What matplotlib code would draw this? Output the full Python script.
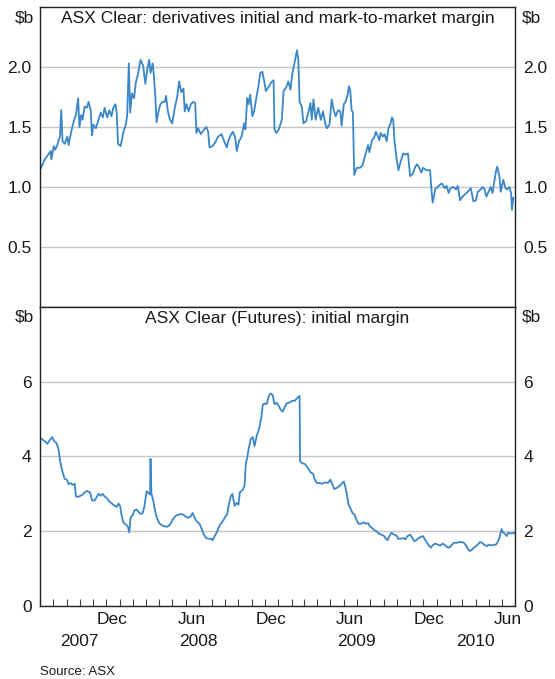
import numpy as np
import matplotlib
matplotlib.use("Agg")
import matplotlib.pyplot as plt
import matplotlib.dates as mdates
import matplotlib.ticker as mticker

plt.rcParams['font.family'] = ['Liberation Sans', 'DejaVu Sans']

START = np.datetime64('2007-07-01')
END = np.datetime64('2010-07-01')

# ---- Top panel: ASX Clear derivatives initial and mark-to-market margin ($b)
top_day = [1, 11, 17, 25, 26, 32, 35, 40, 43, 46,
           49, 52, 57, 63, 66, 72, 78, 83, 88, 91,
           95, 98, 103, 108, 112, 117, 120, 123, 129, 135,
           140, 145, 149, 155, 160, 165, 169, 174, 177, 180,
           186, 192, 198, 201, 205, 208, 212, 217, 221, 226,
           232, 238, 243, 248, 252, 255, 260, 263, 266, 269,
           274, 278, 283, 288, 291, 295, 300, 305, 311, 317,
           321, 326, 331, 334, 338, 343, 348, 354, 358, 361,
           365, 371, 379, 384, 388, 391, 398, 404, 411, 419,
           425, 431, 434, 441, 445, 450, 454, 459, 465, 471,
           474, 478, 481, 485, 490, 494, 499, 504, 508, 513,
           518, 521, 527, 533, 539, 541, 545, 551, 558, 562,
           568, 573, 578, 582, 587, 593, 596, 599, 604, 608,
           614, 619, 624, 627, 631, 636, 642, 648, 653, 658,
           662, 668, 673, 678, 682, 688, 693, 696, 701, 705,
           710, 713, 716, 719, 722, 725, 731, 738, 744, 751,
           757, 760, 766, 771, 775, 780, 783, 786, 791, 795,
           800, 804, 809, 812, 815, 818, 823, 827, 832, 838,
           844, 849, 854, 860, 866, 870, 875, 880, 884, 891,
           900, 903, 906, 912, 920, 927, 934, 938, 943, 947,
           954, 960, 964, 969, 975, 981, 987, 994, 1000, 1006,
           1010, 1017, 1021, 1026, 1030, 1035, 1040, 1044, 1049, 1052,
           1055, 1060, 1063, 1069, 1074, 1078, 1083, 1087, 1089, 1092]
top_val = [1.15, 1.23, 1.26, 1.30, 1.23, 1.34, 1.31, 1.35, 1.39, 1.42,
           1.64, 1.38, 1.36, 1.42, 1.35, 1.46, 1.55, 1.60, 1.74, 1.50,
           1.60, 1.56, 1.67, 1.66, 1.71, 1.64, 1.43, 1.52, 1.49, 1.56,
           1.62, 1.58, 1.66, 1.58, 1.64, 1.59, 1.66, 1.69, 1.62, 1.36,
           1.34, 1.45, 1.52, 1.59, 2.03, 1.62, 1.78, 1.74, 1.87, 1.94,
           2.06, 2.01, 1.86, 1.99, 2.06, 1.95, 2.03, 1.92, 1.76, 1.54,
           1.64, 1.69, 1.71, 1.71, 1.76, 1.63, 1.56, 1.53, 1.66, 1.76,
           1.88, 1.79, 1.82, 1.63, 1.69, 1.63, 1.69, 1.71, 1.70, 1.45,
           1.49, 1.44, 1.48, 1.50, 1.46, 1.33, 1.34, 1.37, 1.42, 1.44,
           1.38, 1.33, 1.38, 1.44, 1.46, 1.42, 1.30, 1.38, 1.42, 1.53,
           1.48, 1.74, 1.69, 1.77, 1.59, 1.63, 1.74, 1.84, 1.95, 1.96,
           1.87, 1.80, 1.83, 1.87, 1.89, 1.48, 1.45, 1.48, 1.56, 1.80,
           1.83, 1.88, 1.81, 1.94, 2.03, 2.14, 2.06, 1.71, 1.67, 1.53,
           1.55, 1.62, 1.70, 1.56, 1.73, 1.56, 1.66, 1.56, 1.63, 1.53,
           1.49, 1.52, 1.73, 1.64, 1.59, 1.64, 1.63, 1.51, 1.69, 1.71,
           1.77, 1.84, 1.80, 1.64, 1.62, 1.10, 1.16, 1.16, 1.18, 1.27,
           1.35, 1.29, 1.39, 1.41, 1.46, 1.42, 1.39, 1.45, 1.42, 1.44,
           1.38, 1.49, 1.53, 1.58, 1.56, 1.38, 1.23, 1.14, 1.21, 1.28,
           1.27, 1.28, 1.09, 1.11, 1.17, 1.19, 1.16, 1.12, 1.16, 1.14,
           1.14, 0.99, 0.87, 0.98, 1.01, 1.03, 0.99, 1.01, 0.95, 0.99,
           1.00, 0.98, 1.01, 0.89, 0.92, 0.94, 0.96, 0.99, 0.88, 0.89,
           0.96, 0.98, 1.00, 0.98, 0.92, 0.96, 1.00, 0.95, 1.06, 1.13,
           1.17, 1.09, 0.96, 1.06, 0.99, 0.98, 1.00, 0.95, 0.81, 0.91]

# ---- Bottom panel: ASX Clear (Futures) initial margin ($b)
bot_day = [2, 7, 12, 17, 22, 28, 32, 38, 43, 46,
           49, 54, 57, 62, 66, 71, 75, 80, 83, 88,
           94, 98, 103, 109, 115, 117, 120, 126, 131, 135,
           140, 145, 149, 154, 160, 166, 172, 177, 181, 185,
           188, 192, 198, 203, 206, 209, 214, 218, 223, 228,
           232, 237, 241, 246, 249, 254, 255, 257, 261, 265,
           269, 275, 281, 288, 294, 300, 306, 312, 318, 325,
           331, 335, 341, 348, 352, 357, 361, 368, 372, 377,
           383, 389, 395, 398, 403, 408, 412, 417, 423, 428,
           432, 435, 440, 444, 449, 454, 458, 461, 468, 472,
           475, 478, 481, 486, 491, 495, 500, 506, 511, 514,
           518, 523, 528, 532, 537, 541, 546, 551, 555, 560,
           565, 569, 575, 582, 588, 593, 597, 599, 600, 605,
           611, 616, 620, 625, 630, 634, 639, 645, 651, 658,
           664, 670, 675, 679, 685, 692, 696, 701, 704, 709,
           712, 716, 721, 726, 730, 735, 741, 747, 752, 757,
           761, 766, 771, 777, 781, 788, 794, 798, 802, 806,
           811, 817, 823, 826, 833, 839, 843, 848, 854, 859,
           864, 868, 874, 879, 884, 888, 893, 897, 902, 907,
           913, 918, 924, 929, 933, 939, 944, 949, 955, 961,
           967, 974, 978, 983, 987, 992, 997, 1001, 1006, 1010,
           1015, 1020, 1025, 1031, 1035, 1042, 1048, 1052, 1057, 1060,
           1065, 1068, 1072, 1077, 1080, 1086, 1092, 1095]
bot_val = [4.49, 4.44, 4.40, 4.34, 4.43, 4.52, 4.42, 4.36, 4.18, 3.91,
           3.72, 3.51, 3.40, 3.38, 3.26, 3.29, 3.24, 3.27, 2.93, 2.92,
           2.95, 2.98, 3.04, 3.08, 3.04, 2.98, 2.83, 2.82, 2.92, 3.00,
           2.95, 3.00, 2.93, 2.89, 2.80, 2.74, 2.68, 2.65, 2.74, 2.67,
           2.44, 2.24, 2.18, 2.12, 1.97, 2.36, 2.44, 2.56, 2.58, 2.51,
           2.46, 2.49, 2.67, 3.07, 3.04, 2.98, 3.94, 3.00, 2.84, 2.58,
           2.38, 2.22, 2.16, 2.13, 2.12, 2.18, 2.31, 2.40, 2.44, 2.46,
           2.44, 2.40, 2.36, 2.40, 2.49, 2.36, 2.27, 2.20, 2.09, 1.94,
           1.82, 1.80, 1.80, 1.76, 1.87, 1.97, 2.09, 2.20, 2.29, 2.40,
           2.46, 2.68, 2.93, 3.00, 2.68, 2.76, 2.71, 3.04, 3.11, 3.22,
           3.82, 3.96, 4.18, 4.46, 4.52, 4.28, 4.55, 4.76, 5.07, 5.38,
           5.42, 5.40, 5.62, 5.69, 5.64, 5.40, 5.44, 5.35, 5.26, 5.20,
           5.33, 5.42, 5.44, 5.49, 5.49, 5.56, 5.60, 5.62, 3.87, 3.82,
           3.80, 3.73, 3.66, 3.57, 3.54, 3.38, 3.29, 3.29, 3.27, 3.31,
           3.29, 3.38, 3.24, 3.13, 3.16, 3.22, 3.27, 3.33, 3.22, 2.92,
           2.71, 2.62, 2.49, 2.44, 2.31, 2.20, 2.20, 2.24, 2.20, 2.22,
           2.13, 2.09, 2.03, 2.00, 1.94, 1.91, 1.87, 1.80, 1.76, 1.87,
           1.96, 1.91, 1.88, 1.80, 1.80, 1.82, 1.78, 1.87, 1.91, 1.82,
           1.73, 1.76, 1.82, 1.85, 1.87, 1.78, 1.69, 1.62, 1.56, 1.64,
           1.67, 1.64, 1.62, 1.67, 1.64, 1.58, 1.56, 1.62, 1.69, 1.69,
           1.71, 1.71, 1.69, 1.62, 1.53, 1.47, 1.51, 1.56, 1.60, 1.64,
           1.71, 1.69, 1.64, 1.60, 1.64, 1.62, 1.64, 1.64, 1.73, 1.82,
           2.06, 1.97, 1.94, 1.87, 1.96, 1.94, 1.96, 1.94]

top_title = "ASX Clear: derivatives initial and mark-to-market margin"
bot_title = "ASX Clear (Futures): initial margin"
top_ticks = [0.5, 1.0, 1.5, 2.0]
top_ticklabels = ["0.5", "1.0", "1.5", "2.0"]
bot_ticks = [0, 2, 4, 6]
bot_ticklabels = ["0", "2", "4", "6"]
unit = "$b"
years = ["2007", "2008", "2009", "2010"]
year_centres = ["2007-10-01", "2008-07-01", "2009-07-01", "2010-04-01"]
source = "Source: ASX"

LINE = "#3a86c8"
GRID = "#c6c6c6"
TXT = "#1a1a1a"
FS = 12.5

fig = plt.figure(figsize=(5.55, 6.79), dpi=100)
L, R = 40 / 555, 515 / 555
y_top, y_mid, y_bot = 1 - 7 / 679, 1 - 307 / 679, 1 - 606 / 679
ax1 = fig.add_axes([L, y_mid, R - L, y_top - y_mid])
ax2 = fig.add_axes([L, y_bot, R - L, y_mid - y_bot], sharex=ax1)

t_top = START + np.array(top_day).astype('timedelta64[D]')
t_bot = START + np.array(bot_day).astype('timedelta64[D]')

ax1.plot(t_top, top_val, color=LINE, lw=1.3, solid_joinstyle='round')
ax2.plot(t_bot, bot_val, color=LINE, lw=1.3, solid_joinstyle='round')

for ax, ticks, labels, ylim, title in (
        (ax1, top_ticks, top_ticklabels, (0, 2.5), top_title),
        (ax2, bot_ticks, bot_ticklabels, (0, 8), bot_title)):
    ax.set_ylim(*ylim)
    ax.set_xlim(START, END)
    ax.set_yticks(ticks)
    ax.set_yticklabels(labels)
    ax.tick_params(axis='y', length=0, pad=6, labelsize=FS, labelcolor=TXT,
                   labelleft=True, labelright=True)
    ax.yaxis.grid(True, color=GRID, lw=1.0)
    ax.set_axisbelow(True)
    for s in ax.spines.values():
        s.set_color("#222222")
        s.set_linewidth(1.0)
    ax.text(0.5, 1, title, transform=ax.transAxes, ha='center', va='top',
            fontsize=FS, color=TXT,
            bbox=None).set_y(1 - 4 / 300)
    ax.annotate(unit, xy=(0, 1), xycoords='axes fraction', xytext=(-6, -3),
                textcoords='offset pixels', ha='right', va='top',
                fontsize=FS, color=TXT)
    ax.annotate(unit, xy=(1, 1), xycoords='axes fraction', xytext=(7, -3),
                textcoords='offset pixels', ha='left', va='top',
                fontsize=FS, color=TXT)

ax1.tick_params(axis='x', which='both', bottom=False, labelbottom=False)

ax2.xaxis.set_major_locator(mdates.MonthLocator(bymonthday=1))
ax2.xaxis.set_major_formatter(mticker.NullFormatter())
ax2.xaxis.set_minor_locator(mdates.MonthLocator(bymonth=[6, 12], bymonthday=15))
ax2.xaxis.set_minor_formatter(mdates.DateFormatter('%b'))
ax2.tick_params(axis='x', which='major', direction='in', length=5,
                width=0.8, color="#444444")
ax2.tick_params(axis='x', which='minor', length=0, pad=4,
                labelsize=FS, labelcolor=TXT)

for yr, c in zip(years, year_centres):
    ax2.annotate(yr, xy=(np.datetime64(c), 0), xycoords=('data', 'axes fraction'),
                 xytext=(0, -28), textcoords='offset pixels',
                 ha='center', va='top', fontsize=FS, color=TXT)

fig.text(40 / 555, 1 - 672 / 679, source, ha='left', va='center',
         fontsize=9.5, color=TXT)

fig.savefig("out.png", dpi=100)
